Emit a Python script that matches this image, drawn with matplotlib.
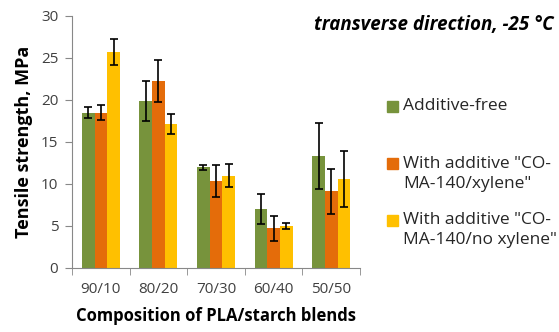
import numpy as np
import matplotlib.pyplot as plt
from matplotlib.patches import Rectangle

plt.rcParams['font.family'] = ['Open Sans', 'DejaVu Sans']

categories = ['90/10', '80/20', '70/30', '60/40', '50/50']
series_names = ['Additive-free',
                'With additive "CO-\nMA-140/xylene"',
                'With additive "CO-\nMA-140/no xylene"']
additive_free = [18.5, 19.9, 12.0, 7.0, 13.3]
additive_free_err = [0.7, 2.4, 0.3, 1.8, 3.9]
with_xylene = [18.5, 22.2, 10.4, 4.7, 9.1]
with_xylene_err = [0.9, 2.5, 1.9, 1.5, 2.7]
no_xylene = [25.7, 17.1, 11.0, 5.0, 10.6]
no_xylene_err = [1.5, 1.2, 1.4, 0.4, 3.3]

colors = ['#77933C', '#E46C0A', '#FFC000']
values = [additive_free, with_xylene, no_xylene]
errors = [additive_free_err, with_xylene_err, no_xylene_err]

fig = plt.figure(figsize=(5.59, 3.32), dpi=100)
ax = fig.add_axes([0.129, 0.193, 0.515, 0.759])

x = np.arange(len(categories))
w = 0.22
for i in range(3):
    ax.bar(x + (i - 1) * w, values[i], w, color=colors[i],
           yerr=errors[i], capsize=3,
           error_kw={'elinewidth': 1.2, 'capthick': 1.2, 'ecolor': 'black'})

ax.set_xlim(-0.5, len(categories) - 0.5)
ax.set_ylim(0, 30)
ax.set_yticks(range(0, 31, 5))
ax.set_xticks(x)
ax.set_xticklabels(categories)
ax.set_xticks(np.arange(-0.5, len(categories), 1), minor=True)
ax.tick_params(axis='x', which='major', length=0, pad=10, labelsize=11, colors='#404040')
ax.tick_params(axis='x', which='minor', length=5, color='#888888')
ax.tick_params(axis='y', length=5, color='#888888', labelsize=11, labelcolor='#404040', pad=5)
for s in ['top', 'right']:
    ax.spines[s].set_visible(False)
for s in ['left', 'bottom']:
    ax.spines[s].set_color('#888888')

ax.set_xlabel('Composition of PLA/starch blends', fontsize=12, fontweight='bold', labelpad=7)
ax.set_ylabel('Tensile strength, MPa', fontsize=13, fontweight='bold', labelpad=6)

fig.text(0.99, 0.925, 'transverse direction, -25 °C', fontsize=13.5,
         fontweight='bold', fontstyle='italic', ha='right', va='center')

# legend drawn by hand, marker aligned with first text line
leg_y = [106, 164, 220]
for c, name, yy in zip(colors, series_names, leg_y):
    fy = 1 - yy / 332
    fig.patches.append(Rectangle((387 / 559, fy - 5.5 / 332), 11 / 559, 11 / 332,
                                 transform=fig.transFigure, color=c))
    fig.text(403 / 559, fy + 8 / 332, name, fontsize=12.5, color='#262626',
             ha='left', va='top', linespacing=1.3)

fig.savefig('out.png', dpi=100)
